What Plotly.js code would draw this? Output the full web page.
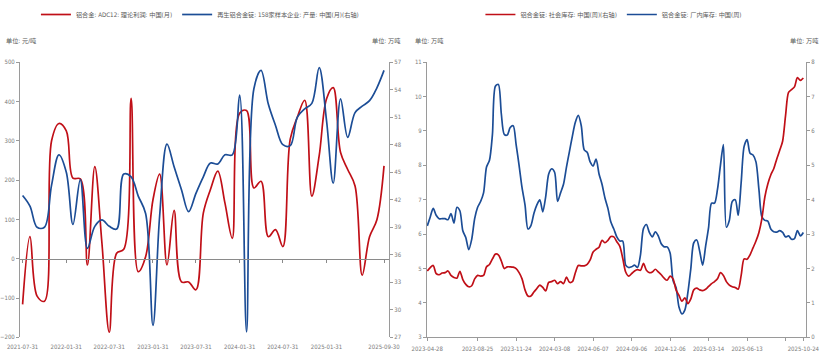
<!DOCTYPE html>
<html><head><meta charset="utf-8">
<script src="https://cdn.plot.ly/plotly-3.0.1.min.js"></script>
<style>html,body{margin:0;padding:0;background:#fff}#chart{width:833px;height:364px}</style>
</head><body><div id="chart"></div>
<script>
// ---------- Left chart: monthly ----------
const monthDates = ['2021-07-31','2021-08-31','2021-09-30','2021-10-31','2021-11-30','2021-12-31',
 '2022-01-31','2022-02-28','2022-03-31','2022-04-30','2022-05-31','2022-06-30','2022-07-31','2022-08-31','2022-09-30','2022-10-31','2022-11-30','2022-12-31',
 '2023-01-31','2023-02-28','2023-03-31','2023-04-30','2023-05-31','2023-06-30','2023-07-31','2023-08-31','2023-09-30','2023-10-31','2023-11-30','2023-12-31',
 '2024-01-31','2024-02-29','2024-03-31','2024-04-30','2024-05-31','2024-06-30','2024-07-31','2024-08-31','2024-09-30','2024-10-31','2024-11-30','2024-12-31',
 '2025-01-31','2025-02-28','2025-03-31','2025-04-30','2025-05-31','2025-06-30','2025-07-31','2025-08-31','2025-09-30'];
const adc12Profit = [-116,56,-95,-108,300,344,325,205,203,-16,234,40,-187,14,24,408,-33,5,150,215,-16,123,-59,-59,-79,116,176,223,142,52,370,377,180,197,56,74,31,304,360,403,159,262,407,435,270,227,185,-42,56,99,236];
const recycledOutput = [42.46,41.3,39.0,39.0,43.6,46.9,45.0,39.3,44.2,36.7,39.1,39.8,39.1,38.8,44.8,44.5,42.4,40.5,28.3,40.2,48.06,45.6,43.1,40.7,42.7,44.5,46.0,45.9,46.9,46.9,53.4,27.6,54.1,56.1,52.4,50.1,48.0,47.9,51.0,51.9,52.5,56.4,50.6,43.8,53.0,48.8,51.5,52.2,52.8,54.2,56.1];
const monthTicks = ['2021-07-31','2022-01-31','2022-07-31','2023-01-31','2023-07-31','2024-01-31','2024-07-31','2025-01-31','2025-09-30'];

// ---------- Right chart: weekly ----------
const weekDates = ['2023-04-28','2023-05-05','2023-05-12','2023-05-19','2023-05-26','2023-06-02','2023-06-09','2023-06-16','2023-06-23','2023-06-30','2023-07-07','2023-07-14','2023-07-21','2023-07-28','2023-08-04','2023-08-11','2023-08-18','2023-08-25',
 '2023-09-01','2023-09-08','2023-09-15','2023-09-22','2023-09-29','2023-10-06','2023-10-13','2023-10-20','2023-10-27','2023-11-03','2023-11-10','2023-11-17','2023-11-24',
 '2023-12-01','2023-12-08','2023-12-15','2023-12-22','2023-12-29','2024-01-05','2024-01-12','2024-01-19','2024-01-26','2024-02-02','2024-02-23','2024-03-01','2024-03-08',
 '2024-03-15','2024-03-22','2024-03-29','2024-04-05','2024-04-12','2024-04-19','2024-04-26','2024-05-03','2024-05-10','2024-05-17','2024-05-24','2024-05-31','2024-06-07',
 '2024-06-14','2024-06-21','2024-06-28','2024-07-05','2024-07-12','2024-07-19','2024-07-26','2024-08-02','2024-08-09','2024-08-16','2024-08-23','2024-08-30','2024-09-06',
 '2024-09-13','2024-09-20','2024-09-27','2024-10-04','2024-10-11','2024-10-18','2024-10-25','2024-11-01','2024-11-08','2024-11-15','2024-11-22','2024-11-29','2024-12-06',
 '2024-12-13','2024-12-20','2024-12-27','2025-01-03','2025-01-10','2025-01-17','2025-01-24','2025-02-07','2025-02-14','2025-02-21','2025-02-28','2025-03-07','2025-03-14',
 '2025-03-21','2025-03-28','2025-04-04','2025-04-11','2025-04-18','2025-04-25','2025-05-02','2025-05-09','2025-05-16','2025-05-23','2025-05-30','2025-06-06','2025-06-13',
 '2025-06-20','2025-06-27','2025-07-04','2025-07-11','2025-07-18','2025-07-25','2025-08-01','2025-08-08','2025-08-15','2025-08-22','2025-08-29','2025-09-05','2025-09-12',
 '2025-09-19','2025-09-26','2025-10-03','2025-10-10','2025-10-17','2025-10-24'];
const socialStock = [1.93,2.03,2.09,1.85,1.82,1.87,1.88,1.93,1.8,1.74,1.72,1.92,1.68,1.54,1.47,1.5,1.7,1.8,1.78,1.8,
 2.05,2.12,2.28,2.42,2.4,2.22,2.0,2.05,2.05,2.04,2.0,1.88,1.7,1.38,1.2,1.2,1.32,1.42,1.52,1.45,
 1.35,1.6,1.62,1.66,1.56,1.62,1.56,1.75,1.6,1.62,1.88,2.09,2.08,2.08,2.12,2.25,2.48,2.56,2.62,2.82,
 2.75,2.82,2.93,2.92,2.78,2.65,2.3,1.9,1.78,1.85,1.93,1.97,1.95,2.15,1.95,1.88,1.9,1.98,1.9,1.82,
 1.72,1.66,1.78,1.7,1.38,1.22,1.05,1.15,0.98,1.12,1.38,1.43,1.38,1.36,1.4,1.48,1.56,1.62,1.7,1.88,
 1.8,1.62,1.52,1.47,1.45,1.4,1.8,2.28,2.27,2.4,2.6,2.8,3.05,3.45,4.08,4.46,4.72,4.9,5.18,5.43,
 5.7,6.45,7.12,7.2,7.28,7.55,7.47,7.54];
const plantStock = [6.24,6.5,6.75,6.55,6.45,6.45,6.45,6.42,6.6,6.32,6.78,6.68,6.1,5.9,5.55,5.85,6.45,6.78,6.95,7.2,
 7.95,8.15,8.9,10.3,10.35,9.5,8.9,8.88,9.1,9.15,8.6,8.0,7.35,6.85,6.15,6.25,6.6,6.85,7.0,6.65,
 7.1,7.75,7.9,7.8,6.95,7.2,7.45,7.95,8.4,8.85,9.25,9.45,9.15,8.45,8.38,8.1,7.98,8.18,7.75,7.45,
 7.05,6.75,6.35,6.15,5.92,5.8,5.8,5.1,5.03,5.05,5.1,5.03,5.4,6.16,6.28,6.05,5.92,6.07,5.95,5.72,
 5.63,5.63,5.45,4.65,4.45,3.88,3.68,3.8,4.3,5.0,5.75,5.83,5.5,5.1,5.65,6.2,6.9,6.9,7.3,8.0,
 8.6,6.2,6.4,6.95,7.0,6.55,7.5,8.55,8.75,8.35,8.3,8.1,7.3,6.5,6.4,6.38,6.15,6.07,6.06,6.1,
 6.05,5.92,5.95,5.85,5.87,6.1,5.95,6.05];
const weekTicks = ['2023-04-28','2023-08-25','2023-11-24','2024-03-08','2024-06-07','2024-09-06','2024-12-06','2025-03-14','2025-06-13','2025-09-12','2025-10-24'];
const weekTickText = ['2023-04-28','2023-08-25','2023-11-24','2024-03-08','2024-06-07','2024-09-06','2024-12-06','2025-03-14','2025-06-13','','2025-10-24'];

const RED = '#C00F17', BLUE = '#1C4D96';
const TXT = '#7a7a7a', AX = '#9a9a9a';
const FONT = 'Liberation Sans Narrow, DejaVu Sans Condensed, Noto Sans CJK SC, sans-serif';
const CJK = 'Liberation Sans Narrow, DejaVu Sans Condensed, Noto Sans CJK SC, sans-serif';

const traces = [
  {x: monthDates, y: adc12Profit, type: 'scatter', mode: 'lines', name: '铝合金: ADC12: 理论利润: 中国(月)',
   line: {color: RED, width: 1.7, shape: 'spline', smoothing: 1}, xaxis: 'x', yaxis: 'y', legend: 'legend'},
  {x: monthDates, y: recycledOutput, type: 'scatter', mode: 'lines', name: '再生铝合金锭: 158家样本企业: 产量: 中国(月)(右轴)',
   line: {color: BLUE, width: 1.7, shape: 'spline', smoothing: 1}, xaxis: 'x', yaxis: 'y2', legend: 'legend'},
  {x: [monthDates[0]], y: [null], type: 'scatter', mode: 'lines', showlegend: false, hoverinfo: 'skip', xaxis: 'x3', yaxis: 'y'},
  {x: weekDates, y: socialStock, type: 'scatter', mode: 'lines', name: '铝合金锭: 社会库存: 中国(周)(右轴)',
   line: {color: RED, width: 1.7, shape: 'spline', smoothing: 0.8}, xaxis: 'x2', yaxis: 'y4', legend: 'legend2'},
  {x: weekDates, y: plantStock, type: 'scatter', mode: 'lines', name: '铝合金锭: 厂内库存: 中国(周)',
   line: {color: BLUE, width: 1.7, shape: 'spline', smoothing: 0.8}, xaxis: 'x2', yaxis: 'y3', legend: 'legend2'}
];

const tickFont = {family: FONT, size: 6, color: TXT};
const unitFont = {family: CJK, size: 6.2, color: '#595959'};
const yDom = [0.0734, 0.8316];
const layout = {
  width: 833, height: 364,
  margin: {l: 0, r: 0, t: 0, b: 0},
  paper_bgcolor: '#fff', plot_bgcolor: 'rgba(0,0,0,0)',
  showlegend: true,
  xaxis: {type: 'date', domain: [0.024, 0.467], anchor: 'y', range: ['2021-07-20', '2025-10-21'],
    tickmode: 'array', tickvals: monthTicks, ticktext: monthTicks, showline: false, ticks: '',
    showgrid: false, zeroline: false, tickfont: tickFont, ticklabelstandoff: 5},
  xaxis3: {type: 'date', overlaying: 'x', anchor: 'free', position: 0.2900, range: ['2021-07-20', '2025-10-21'],
    tickmode: 'array', tickvals: monthTicks, showticklabels: false, showline: true, linecolor: '#8a8a8a', linewidth: 1,
    ticks: 'outside', ticklen: 3, tickcolor: '#8a8a8a', showgrid: false, zeroline: false},
  yaxis: {domain: yDom, anchor: 'x', range: [-200, 500], dtick: 100, showgrid: false, zeroline: false,
    showline: true, linecolor: AX, ticks: 'outside', ticklen: 3, tickcolor: AX, tickfont: tickFont},
  yaxis2: {overlaying: 'y', side: 'right', anchor: 'x', range: [27, 57], dtick: 3, showgrid: false, zeroline: false,
    showline: true, linecolor: AX, ticks: 'outside', ticklen: 3, tickcolor: AX, tickfont: tickFont},
  xaxis2: {type: 'category', domain: [0.5126, 0.9676], anchor: 'y3', range: [-0.1, 127.9],
    tickmode: 'array', tickvals: weekTicks, ticktext: weekTickText, showline: true, linecolor: AX,
    ticks: 'outside', ticklen: 3, tickcolor: AX, showgrid: false, zeroline: false, tickfont: tickFont, tickangle: 0,
    ticklabelstandoff: 2},
  yaxis3: {domain: yDom, anchor: 'x2', range: [3, 11], dtick: 1, showgrid: false, zeroline: false,
    showline: true, linecolor: AX, ticks: 'outside', ticklen: 3, tickcolor: AX, tickfont: tickFont},
  yaxis4: {overlaying: 'y3', side: 'right', anchor: 'x2', range: [0, 8], dtick: 1, showgrid: false, zeroline: false,
    showline: true, linecolor: AX, ticks: 'outside', ticklen: 3, tickcolor: AX, tickfont: tickFont},
  legend: {orientation: 'h', x: 0.24, y: 0.962, xanchor: 'center', yanchor: 'middle',
    font: {family: CJK, size: 6.2, color: '#595959'}, bgcolor: 'rgba(0,0,0,0)', itemwidth: 30, tracegroupgap: 0},
  legend2: {orientation: 'h', x: 0.737, y: 0.962, xanchor: 'center', yanchor: 'middle',
    font: {family: CJK, size: 6.2, color: '#595959'}, bgcolor: 'rgba(0,0,0,0)', itemwidth: 30, tracegroupgap: 0},
  annotations: [
    {text: '单位: 元/吨', xref: 'paper', yref: 'paper', x: 0.005, y: 0.89, xanchor: 'left', yanchor: 'middle', showarrow: false, font: unitFont},
    {text: '单位: 万吨', xref: 'paper', yref: 'paper', x: 0.483, y: 0.89, xanchor: 'right', yanchor: 'middle', showarrow: false, font: unitFont},
    {text: '单位: 万吨', xref: 'paper', yref: 'paper', x: 0.496, y: 0.89, xanchor: 'left', yanchor: 'middle', showarrow: false, font: unitFont},
    {text: '单位: 万吨', xref: 'paper', yref: 'paper', x: 0.984, y: 0.89, xanchor: 'right', yanchor: 'middle', showarrow: false, font: unitFont}
  ]
};
Plotly.newPlot('chart', traces, layout, {staticPlot: true, displayModeBar: false});
</script>
</body></html>
